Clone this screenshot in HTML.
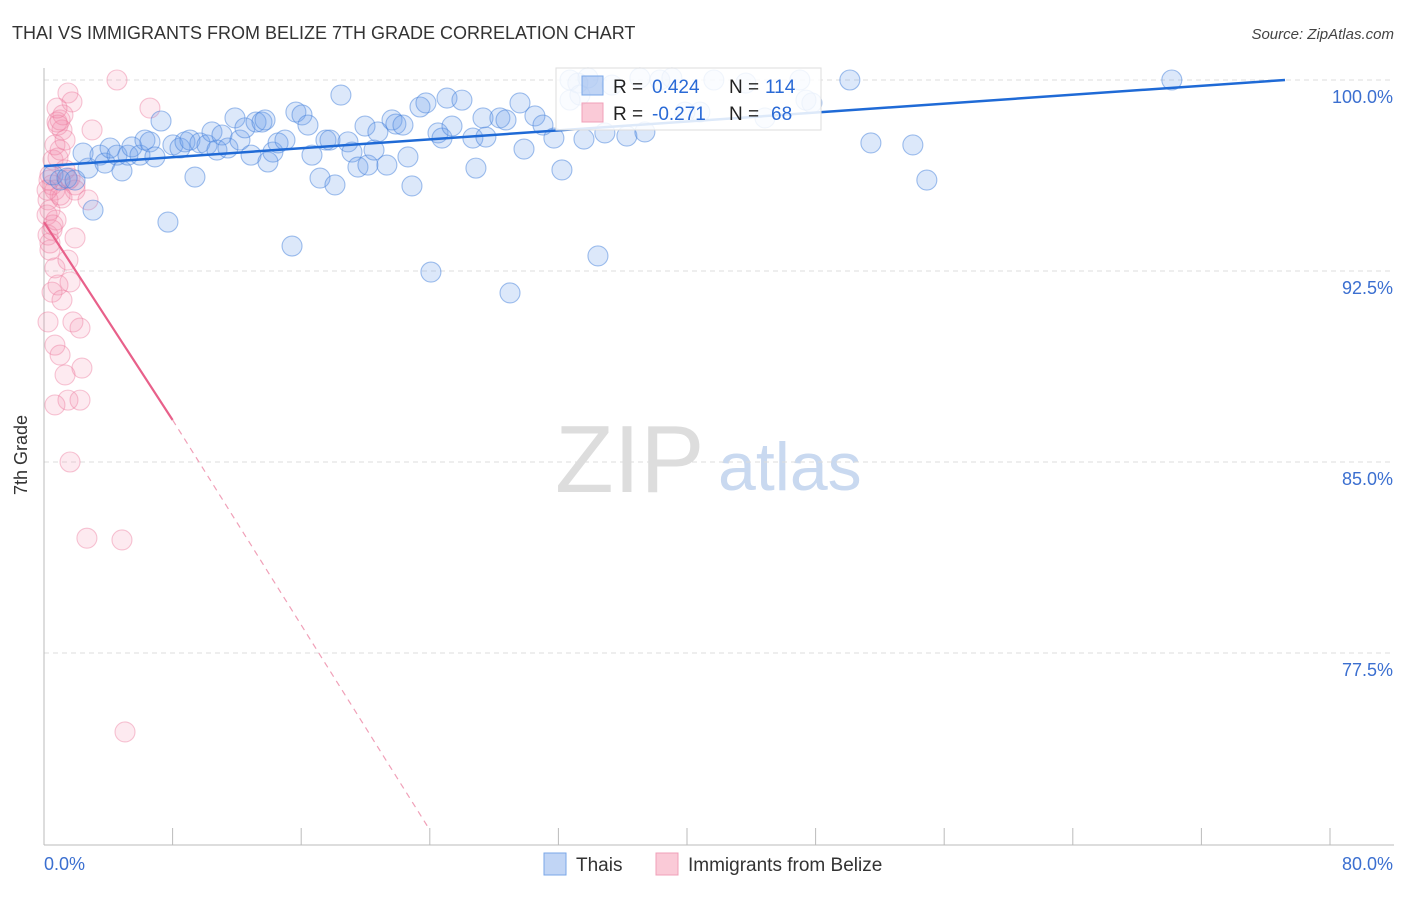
<!DOCTYPE html>
<html><head><meta charset="utf-8"><style>
body{margin:0;background:#fff;font-family:"Liberation Sans",sans-serif}
svg text{font-family:"Liberation Sans",sans-serif}
</style></head><body>
<svg id="chart" width="1406" height="892" xmlns="http://www.w3.org/2000/svg">
<text x="12" y="39" font-size="18" fill="#333">THAI VS IMMIGRANTS FROM BELIZE 7TH GRADE CORRELATION CHART</text>
<text x="1394" y="39" font-size="15" fill="#444" font-style="italic" text-anchor="end">Source: ZipAtlas.com</text>
<g>
<text x="555" y="492" font-size="96" fill="#ddd" font-family="Liberation Serif,serif">ZIP</text>
<text x="718" y="490" font-size="68" fill="#c9d9f0">atlas</text>
</g>
<g id="grid"></g>
<g id="axes"></g>
<g id="pts"></g>
<g id="lines"></g>
<text x="27" y="455" font-size="18" fill="#333" transform="rotate(-90 27 455)" text-anchor="middle">7th Grade</text>
<g>
<rect x="556" y="68" width="265" height="62" fill="rgba(255,255,255,0.85)" stroke="#ddd"/>
<rect x="582" y="76" width="21" height="19" fill="rgba(100,150,230,0.4)" stroke="#7aa7e8"/>
<rect x="582" y="103" width="21" height="19" fill="rgba(245,150,175,0.5)" stroke="#f0a0b8"/>
<text x="613" y="93" font-size="19" fill="#222">R = </text><text x="652" y="93" font-size="19" fill="#2a6ad6">0.424</text>
<text x="729" y="93" font-size="19" fill="#222">N = </text><text x="765" y="93" font-size="19" fill="#2a6ad6">114</text>
<text x="613" y="120" font-size="19" fill="#222">R = </text><text x="652" y="120" font-size="19" fill="#2a6ad6">-0.271</text>
<text x="729" y="120" font-size="19" fill="#222">N = </text><text x="771" y="120" font-size="19" fill="#2a6ad6">68</text>
</g>
<g>
<rect x="544" y="853" width="22" height="22" fill="rgba(100,150,230,0.4)" stroke="#7aa7e8"/>
<text x="576" y="871" font-size="19" fill="#333">Thais</text>
<rect x="656" y="853" width="22" height="22" fill="rgba(245,150,175,0.5)" stroke="#f0a0b8"/>
<text x="688" y="871" font-size="19" fill="#333">Immigrants from Belize</text>
</g>
</svg>
<script>
const yTicks=[100,92.5,85,77.5];
const yTickLabels=["100.0%","92.5%","85.0%","77.5%"];
const xTicks=[0,8,16,24,32,40,48,56,64,72,80];
const xEndLabels=["0.0%","80.0%"];
const thaiX=[0.56,1.0,1.43,1.93,2.74,3.05,2.43,3.48,3.79,4.11,4.54,4.85,5.22,5.47,5.97,6.28,6.59,6.9,7.28,7.71,8.02,8.46,8.77,9.08,9.39,9.7,10.14,10.45,10.76,11.07,11.44,11.88,12.19,12.5,12.88,13.19,13.56,13.75,13.93,14.24,14.56,14.99,15.43,15.67,16.05,16.42,16.67,17.17,17.54,17.79,18.1,18.47,18.91,19.16,19.53,19.97,20.15,20.53,20.77,21.33,21.65,21.89,22.33,22.64,22.89,23.39,23.76,24.07,24.51,24.76,25.07,25.38,26.0,26.68,26.87,27.31,27.49,28.36,28.74,28.99,29.61,29.86,30.54,31.04,31.72,32.22,32.72,33.21,33.59,33.84,34.46,34.89,35.33,36.26,37.07,37.38,38.31,39.06,40.8,41.67,43.66,47.02,47.4,47.77,50.13,51.44,54.05,54.92,70.16,32.72,33.34,39.87,44.85];
const thaiY=[96.27,96.07,96.15,96.07,96.54,94.89,97.13,97.05,96.74,97.33,97.05,96.43,97.05,97.37,97.05,97.64,97.57,96.98,98.39,94.42,97.45,97.33,97.57,97.64,96.19,97.53,97.45,97.96,97.25,97.84,97.33,98.51,97.64,98.12,97.05,98.35,98.35,98.43,96.78,97.17,97.53,97.64,93.48,98.74,98.63,98.23,97.05,96.15,97.64,97.64,95.88,99.41,97.57,97.17,96.58,98.19,96.66,97.25,97.96,96.66,98.43,98.27,98.23,96.98,95.84,98.94,99.1,92.46,97.92,97.72,99.29,98.19,99.21,97.72,96.54,98.51,97.76,98.51,98.43,91.64,99.1,97.29,98.59,98.23,97.72,96.47,100,99.88,97.68,100.08,93.09,97.92,99.8,97.8,100.08,97.96,100,100.08,98.74,100,99.88,100,99.21,99.1,100,97.53,97.45,96.07,100,99.21,99.41,98.74,98.51];
const belizeX=[0.37,0.5,0.68,0.25,0.37,0.19,0.56,0.87,1.0,0.68,1.12,0.81,1.0,1.18,1.49,1.74,0.87,2.99,4.54,6.59,1.31,1.49,1.62,1.93,1.12,0.5,0.37,0.68,0.87,0.5,1.12,1.62,1.49,1.93,0.25,0.68,1.0,1.8,2.24,2.36,1.31,1.49,2.24,0.68,1.62,2.67,4.85,5.04,0.25,0.37,0.56,0.75,1.0,2.74,1.93,1.31,0.81,0.19,0.31];
const belizeY=[96.27,95.88,95.68,95.29,94.89,94.7,96.86,96.94,97.25,97.45,98.04,98.35,98.43,98.63,99.49,99.14,98.23,98.04,100,98.9,96.47,96.07,96.15,95.68,95.37,94.11,93.32,92.62,91.95,91.67,91.36,92.07,92.93,93.8,90.5,89.59,89.2,90.5,90.26,88.69,88.42,87.43,87.43,87.24,85.0,82.01,81.94,74.4,93.91,93.6,94.31,94.5,95.48,95.29,95.88,97.64,98.9,95.68,96.07];
const thaiTrend=[[0,96.62],[77.2,100]];
const belizeTrendSolid=[[0,94.42],[8,86.65]];
const belizeTrendDashed=[[8,86.65],[24,70.55]];
const NS="http://www.w3.org/2000/svg";
const sx=v=>44+v*1286/80;
const sy=v=>80+(100-v)*191/7.5;
function mk(tag,attrs,parent){const e=document.createElementNS(NS,tag);for(const k in attrs)e.setAttribute(k,attrs[k]);document.getElementById(parent).appendChild(e);return e;}
yTicks.forEach((t,i)=>{
  const g=mk('line',{x1:44,x2:1394,y1:sy(t),y2:sy(t),stroke:'#ddd','stroke-dasharray':'5,4'},'grid');
  
  
  const l=mk('text',{x:1393,y:sy(t)+23,'font-size':18,fill:'#3b6fd0','text-anchor':'end'},'axes');
  l.textContent=yTickLabels[i];
  
  
});
const ax=mk('line',{x1:44,x2:1394,y1:845,y2:845,stroke:'#bbb'},'axes');


const ay=mk('line',{x1:44,x2:44,y1:68,y2:845,stroke:'#bbb'},'axes');


xTicks.forEach(t=>{
  const k=mk('line',{x1:sx(t),x2:sx(t),y1:828,y2:845,stroke:'#bbb'},'axes');
  
  
});
const xl0=mk('text',{x:44,y:870,'font-size':18,fill:'#3b6fd0'},'axes');xl0.textContent=xEndLabels[0];


const xl1=mk('text',{x:1393,y:870,'font-size':18,fill:'#3b6fd0','text-anchor':'end'},'axes');xl1.textContent=xEndLabels[1];


belizeX.forEach((x,i)=>{
  const c=mk('circle',{cx:sx(x),cy:sy(belizeY[i]),r:10,fill:'rgba(245,140,170,0.18)',stroke:'rgba(235,120,155,0.42)','stroke-width':1.1},'pts');
  
  
});
thaiX.forEach((x,i)=>{
  const c=mk('circle',{cx:sx(x),cy:sy(thaiY[i]),r:10,fill:'rgba(110,160,235,0.24)',stroke:'rgba(70,130,220,0.5)','stroke-width':1.1},'pts');
  
  
});
const tl=mk('line',{x1:sx(thaiTrend[0][0]),y1:sy(thaiTrend[0][1]),x2:sx(thaiTrend[1][0]),y2:sy(thaiTrend[1][1]),stroke:'#1f6ad6','stroke-width':2.5},'lines');


const bl=mk('line',{x1:sx(belizeTrendSolid[0][0]),y1:sy(belizeTrendSolid[0][1]),x2:sx(belizeTrendSolid[1][0]),y2:sy(belizeTrendSolid[1][1]),stroke:'#e8608a','stroke-width':2.2},'lines');


const bd=mk('line',{x1:sx(belizeTrendDashed[0][0]),y1:sy(belizeTrendDashed[0][1]),x2:sx(belizeTrendDashed[1][0]),y2:sy(belizeTrendDashed[1][1]),stroke:'#f0a0b8','stroke-width':1.2,'stroke-dasharray':'6,5'},'lines');


</script>
</body></html>
